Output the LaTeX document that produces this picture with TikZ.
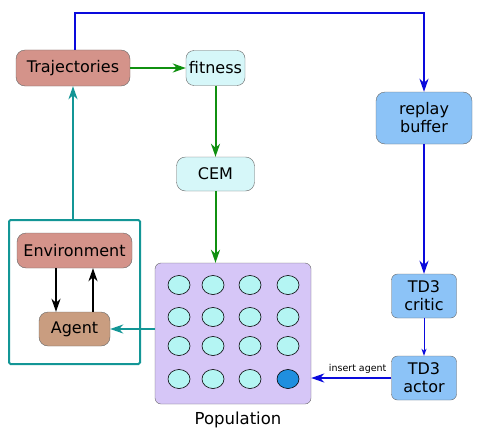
\documentclass[tikz,border=0pt]{standalone}
\usepackage{fontspec}
\setmainfont{DejaVu Sans}
\usetikzlibrary{positioning,arrows.meta,shapes.geometric}

\definecolor{traj}{HTML}{D4938A}
\definecolor{agentc}{HTML}{C99D80}
\definecolor{cem}{HTML}{D6F7F9}
\definecolor{pop}{HTML}{D6C6F7}
\definecolor{indiv}{HTML}{B4F5F3}
\definecolor{best}{HTML}{1F8FDF}
\definecolor{td}{HTML}{8CC3F7}
\definecolor{bl}{HTML}{0A0ADC}
\definecolor{gr}{HTML}{109010}
\definecolor{tl}{HTML}{139696}

\begin{document}
\begin{tikzpicture}[x=1pt, y=-1pt, >={Stealth[length=13pt, width=9pt, inset=4pt]},
		b/.style={draw=gray!80!black, rounded corners=9pt, inner sep=0pt, align=center, font=\fontsize{16}{18}\selectfont},
		ind/.style={ellipse, draw, semithick, minimum width=22pt, minimum height=19pt, inner sep=0pt}]
		\useasboundingbox (0,0) rectangle (481,444);

		\node[b, fill=traj, minimum width=114pt, minimum height=36pt] (T) at (73,68) {Trajectories};
		\node[b, fill=cem, rounded corners=8pt, minimum width=59pt, minimum height=35pt] (F) at (215.5,68) {fitness};
		\node[b, fill=cem, minimum width=78pt, minimum height=34pt] (C) at (215.5,174) {CEM};

		\node[b, fill=pop, rounded corners=6pt, minimum width=156pt, minimum height=141pt] (P) at (233,333.5) {};
		\node[font=\fontsize{16.5}{18}\selectfont] (P_label) at (238,420) {Population};
		\foreach \y [count=\j] in {285,317,346,379} {
			\foreach \x [count=\i] in {179,213,250,288} {
				\ifnum\i\j=44 \def\cc{best}\else\def\cc{indiv}\fi
				\node[ind, fill=\cc] (p\i\j) at (\x,\y) {};
			}
		}

		\node[draw=tl, line width=2pt, rounded corners=1.5pt, minimum width=131pt, minimum height=144pt] (W) at (74.5,292) {};
		\node[b, fill=traj, minimum width=115pt, minimum height=35pt] (E) at (74.5,250.5) {Environment};
		\node[b, fill=agentc, minimum width=71pt, minimum height=34pt] (A) at (74.5,329) {Agent};

		\node[b, fill=td, minimum width=96pt, minimum height=52pt] (R) at (424,118) {replay\\buffer};
		\node[b, fill=td, rounded corners=6pt, minimum width=65pt, minimum height=44pt] (Cr) at (424,296) {TD3\\critic};
		\node[b, fill=td, rounded corners=6pt, minimum width=65pt, minimum height=44pt] (Ac) at (424,378) {TD3\\actor};
		\coordinate (top) at (424,13);

		\draw[->, gr, line width=2pt] (T) -- (F);
		\draw[->, gr, line width=2pt] (F) -- (C);
		\draw[->, gr, line width=2pt] (C) -- (C |- P.north);

		\draw[->, tl, line width=2pt] (W.north -| T) -- (T);
		\draw[->, tl, line width=1.5pt] (P.west |- A) -- (A);
		\draw[->, black, line width=2pt] ([xshift=-18.5pt]E.south) -- ([xshift=-18.5pt]A.north);
		\draw[->, black, line width=2pt] ([xshift=18.5pt]A.north) -- ([xshift=18.5pt]E.south);

		\draw[->, bl, line width=2pt] ([xshift=2pt]T.north) |- (top) -- (R);
		\draw[->, bl, line width=2pt] (R) -- (Cr);
		\draw[-{Stealth[length=7pt, width=5pt, inset=2pt]}, bl, line width=1pt] (Cr) -- (Ac);
		\draw[->, bl, line width=2pt] (Ac) -- node[above, pos=0.42, black, font=\fontsize{9.5}{11}\selectfont] {insert agent} (Ac -| P.east);
	\end{tikzpicture}
\end{document}
